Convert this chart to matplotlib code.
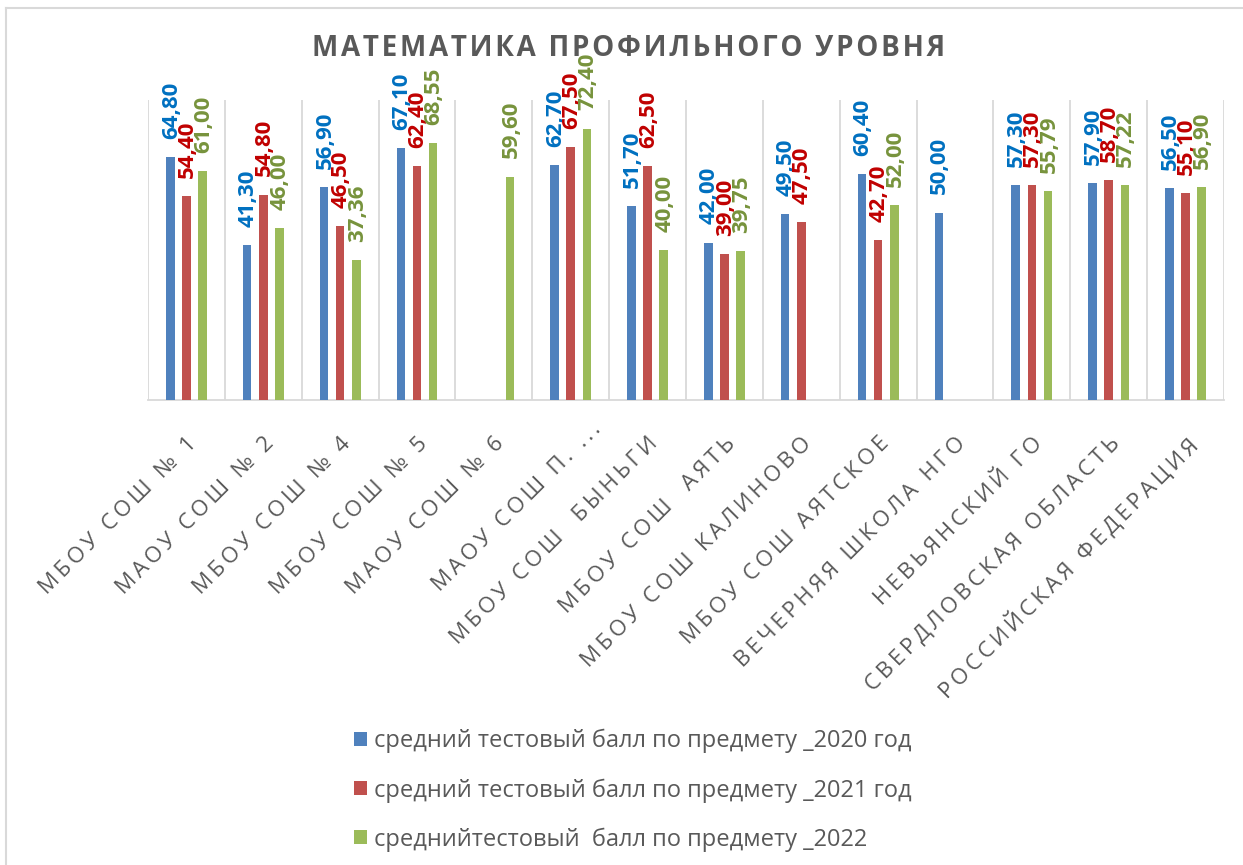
import numpy as np
import matplotlib
matplotlib.use("Agg")
import matplotlib.pyplot as plt
from matplotlib.lines import Line2D
from matplotlib.patches import Patch
from matplotlib.transforms import ScaledTranslation

nan = np.nan

categories = [
    "МБОУ СОШ № 1", "МАОУ СОШ № 2", "МБОУ СОШ № 4", "МБОУ СОШ № 5",
    "МАОУ СОШ № 6", "МАОУ СОШ П. ...", "МБОУ СОШ  БЫНЬГИ", "МБОУ СОШ  АЯТЬ",
    "МБОУ СОШ КАЛИНОВО", "МБОУ СОШ АЯТСКОЕ", "ВЕЧЕРНЯЯ ШКОЛА НГО",
    "НЕВЬЯНСКИЙ ГО", "СВЕРДЛОВСКАЯ ОБЛАСТЬ", "РОССИЙСКАЯ ФЕДЕРАЦИЯ",
]
v2020 = [64.80, 41.30, 56.90, 67.10, nan, 62.70, 51.70, 42.00, 49.50, 60.40, 50.00, 57.30, 57.90, 56.50]
v2021 = [54.40, 54.80, 46.50, 62.40, nan, 67.50, 62.50, 39.00, 47.50, 42.70, nan, 57.30, 58.70, 55.10]
v2022 = [61.00, 46.00, 37.36, 68.55, 59.60, 72.40, 40.00, 39.75, nan, 52.00, nan, 55.79, 57.22, 56.90]
series_names = [
    "средний тестовый балл по предмету _2020 год",
    "средний тестовый балл по предмету _2021 год",
    "среднийтестовый  балл по предмету _2022",
]
title = "МАТЕМАТИКА ПРОФИЛЬНОГО УРОВНЯ"

bar_colors = ["#4F81BD", "#C0504D", "#9BBB59"]
label_colors = ["#0070C0", "#C00000", "#77933C"]
FONT = ["Open Sans", "DejaVu Sans"]
GREY = "#595959"

def spaced(s, sp="\u2009"):
    return sp.join(s)

W, H = 1243, 865
fig = plt.figure(figsize=(W / 100, H / 100), dpi=100)
ax = fig.add_axes([148 / W, 1 - 400 / H, (1224 - 148) / W, 300 / H])

x = np.arange(len(categories))
bw = 0.113
step = 0.21
for i, (vals, bc, lc) in enumerate(zip([v2020, v2021, v2022], bar_colors, label_colors)):
    xs = x + (i - 1) * step
    ax.bar(xs, vals, width=bw, color=bc, zorder=3)
    for xi, v in zip(xs, vals):
        if np.isnan(v):
            continue
        ax.annotate(f"{v:.2f}".replace(".", ","), (xi, v), xytext=(1, 18),
                    textcoords="offset pixels", rotation=90, ha="center", va="bottom",
                    fontsize=16, fontweight="bold", color=lc, family=FONT, zorder=4)

ax.set_xlim(-0.5, len(categories) - 0.5)
ax.set_ylim(0, 80)
ax.set_yticks([])
for s in ["left", "right", "top"]:
    ax.spines[s].set_visible(False)
ax.spines["bottom"].set_color("#D9D9D9")
ax.spines["bottom"].set_linewidth(1.3)
ax.set_xticks(np.arange(len(categories) + 1) - 0.5, minor=True)
ax.grid(which="minor", axis="x", color="#D9D9D9", linewidth=1.3, zorder=0)
ax.tick_params(axis="x", which="both", length=0)
ax.set_xticks(x)
ticklabels = ax.set_xticklabels([spaced(c) for c in categories], rotation=45, ha="right",
                                va="top", rotation_mode="anchor", fontsize=16,
                                color=GREY, family=FONT)
ax.tick_params(axis="x", which="major", pad=24)
# Excel nudged the truncated sixth label up and to the right
ticklabels[5].set_transform(ticklabels[5].get_transform()
                            + ScaledTranslation(0.2, 0.14, fig.dpi_scale_trans))

fig.text(629 / W, 1 - 49 / H, spaced(title, "\u200a"), ha="center", va="center", fontsize=20,
         fontweight="bold", color=GREY, family=FONT)

handles = [Patch(facecolor=c, edgecolor="none") for c in bar_colors]
leg = fig.legend(handles, series_names, loc="upper left",
                 bbox_to_anchor=(354 / W, 1 - 729 / H), frameon=False,
                 prop={"family": FONT, "size": 17}, labelcolor=GREY,
                 handlelength=0.55, handleheight=0.55, handletextpad=0.3,
                 labelspacing=1.05, borderpad=0, borderaxespad=0)

fig.add_artist(Line2D([5.5 / W, 5.5 / W], [0, 1 - 7.5 / H], color="#D9D9D9", lw=1.5))
fig.add_artist(Line2D([5.5 / W, 1], [1 - 7.5 / H, 1 - 7.5 / H], color="#D9D9D9", lw=1.5))

fig.savefig("out.png", dpi=100)
